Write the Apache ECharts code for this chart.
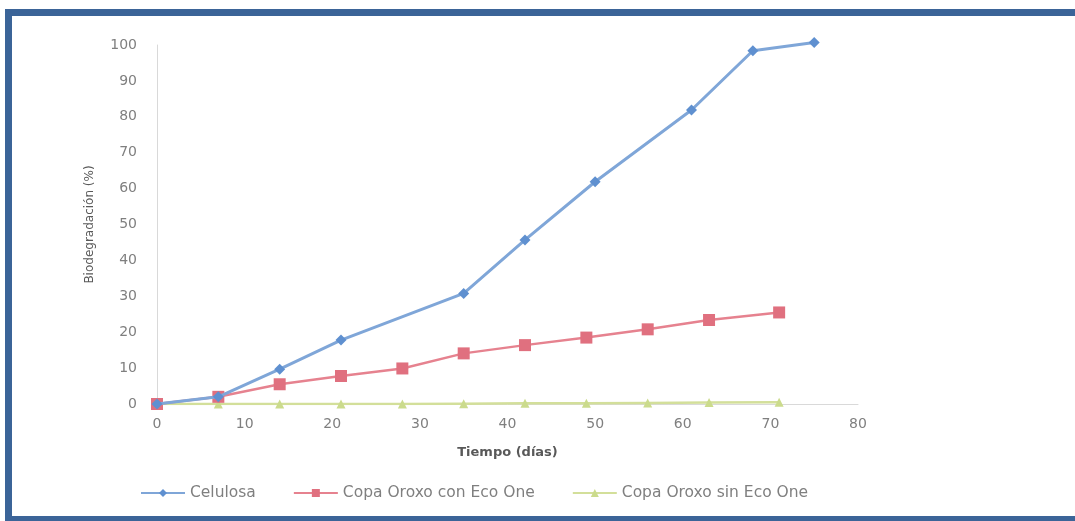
<!DOCTYPE html>
<html>
<head>
<meta charset="utf-8">
<script src="https://cdn.jsdelivr.net/npm/echarts@6/dist/echarts.min.js"></script>
<style>
  html, body { margin: 0; padding: 0; background: #fff; overflow: hidden; }
  #frame {
    position: absolute; left: 5px; top: 9px; width: 1090px; height: 512px;
    box-sizing: border-box; border: 7px solid #3b6498; border-bottom-width: 5px;
  }
  #chart { position: absolute; left: 0; top: 0; width: 1075px; height: 521px; }
</style>
</head>
<body>
<div id="frame"></div>
<div id="chart"></div>
<script>
// Celulosa
const celulosaDays = [0, 7, 14, 21, 35, 42, 50, 61, 68, 75]
const celulosaValues = [0, 2, 9.7, 17.8, 30.8, 45.7, 61.9, 81.9, 98.4, 100.7]

// Copa Oroxo con Eco One
const conDays = [0, 7, 14, 21, 28, 35, 42, 49, 56, 63, 71]
const conValues = [0, 2, 5.5, 7.8, 9.9, 14.1, 16.4, 18.5, 20.8, 23.4, 25.5]

// Copa Oroxo sin Eco One
const sinDays = [0, 7, 14, 21, 28, 35, 42, 49, 56, 63, 71]
const sinValues = [0, 0, 0, 0, 0, 0.1, 0.2, 0.2, 0.3, 0.4, 0.5]

const seriesNames = ['Celulosa', 'Copa Oroxo con Eco One', 'Copa Oroxo sin Eco One']

function pairs(days, values) {
  return days.map((d, i) => [d, values[i]])
}

const chart = echarts.init(document.getElementById('chart'))

const labelColor = '#7f7f7f'
const fontFamily = 'DejaVu Sans, sans-serif'

chart.setOption({
  backgroundColor: 'transparent',
  animation: false,
  grid: {
    left: 157,
    right: 217,
    top: 45,
    bottom: 117
  },
  legend: {
    data: seriesNames,
    left: 140,
    top: 485,
    padding: 0,
    itemWidth: 44,
    itemHeight: 10,
    itemGap: 37,
    textStyle: {
      color: labelColor,
      fontSize: 15.5,
      fontFamily: fontFamily
    }
  },
  xAxis: {
    type: 'value',
    min: 0,
    max: 80,
    interval: 10,
    name: 'Tiempo (días)',
    nameLocation: 'middle',
    nameGap: 42,
    nameTextStyle: {
      color: '#595959',
      fontSize: 13,
      fontWeight: 'bold',
      fontFamily: fontFamily
    },
    axisLine: { lineStyle: { color: '#d9d9d9', width: 1 } },
    axisTick: { show: false },
    splitLine: { show: false },
    axisLabel: {
      color: labelColor,
      fontSize: 14,
      margin: 13,
      fontFamily: fontFamily
    }
  },
  yAxis: {
    type: 'value',
    min: 0,
    max: 100,
    interval: 10,
    name: 'Biodegradación (%)',
    nameLocation: 'middle',
    nameGap: 61,
    nameTextStyle: {
      color: '#595959',
      fontSize: 12,
      fontFamily: fontFamily
    },
    axisLine: { show: true, lineStyle: { color: '#d9d9d9', width: 1 } },
    axisTick: { show: false },
    splitLine: { show: false },
    axisLabel: {
      color: labelColor,
      fontSize: 14,
      margin: 20,
      fontFamily: fontFamily
    }
  },
  series: [
    {
      name: seriesNames[0],
      type: 'line',
      data: pairs(celulosaDays, celulosaValues),
      symbol: 'diamond',
      symbolSize: 11,
      clip: false,
      z: 3,
      lineStyle: { color: '#7fa6d8', width: 3 },
      itemStyle: { color: '#5f90d0' }
    },
    {
      name: seriesNames[1],
      type: 'line',
      data: pairs(conDays, conValues),
      symbol: 'rect',
      symbolSize: 12,
      z: 2,
      lineStyle: { color: '#e6828f', width: 2.5 },
      itemStyle: { color: '#e0707f' }
    },
    {
      name: seriesNames[2],
      type: 'line',
      data: pairs(sinDays, sinValues),
      symbol: 'triangle',
      symbolSize: 9,
      z: 1,
      lineStyle: { color: '#d3df9a', width: 2.5 },
      itemStyle: { color: '#cbdb8c' }
    }
  ]
})
</script>
</body>
</html>
